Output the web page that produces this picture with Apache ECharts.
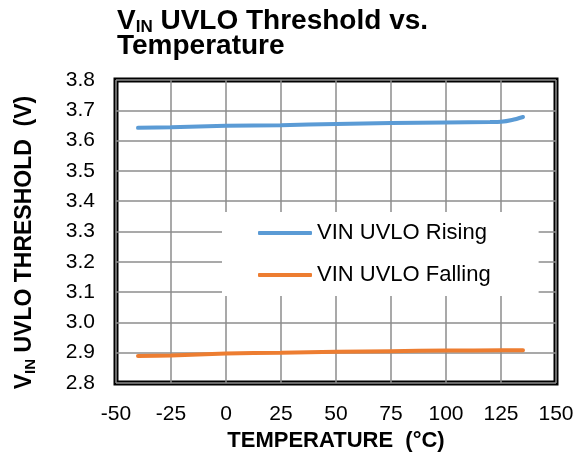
<!DOCTYPE html>
<html>
<head>
<meta charset="utf-8">
<script src="https://cdn.jsdelivr.net/npm/echarts@6/dist/echarts.min.js"></script>
<style>
  html, body { margin: 0; padding: 0; background: #fff; }
  #chart { width: 579px; height: 459px; }
</style>
</head>
<body>
<div id="chart"></div>
<script>
// Temperature sweep (°C) and measured UVLO thresholds (V)
const risingTemps   = [-40, -25, 0, 25, 50, 75, 100, 120, 125, 130, 135];
const risingValues  = [3.642, 3.644, 3.649, 3.651, 3.655, 3.658, 3.660, 3.661, 3.662, 3.668, 3.678];
const fallingTemps  = [-40, -25, 0, 25, 50, 75, 100, 125, 135];
const fallingValues = [2.889, 2.891, 2.897, 2.900, 2.903, 2.905, 2.907, 2.908, 2.908];

const seriesNames = ['VIN UVLO Rising', 'VIN UVLO Falling'];
const seriesColors = ['#5b9bd5', '#ed7d31'];

const xTicks = { min: -50, max: 150, step: 25 };
const yTicks = { min: 2.8, max: 3.8, step: 0.1 };

const pairs = (xs, ys) => xs.map((x, i) => [x, ys[i]]);

const FONT = 'Arial, "Liberation Sans", sans-serif';
const chart = echarts.init(document.getElementById('chart'), null, { renderer: 'canvas' });

chart.setOption({
  animation: false,
  backgroundColor: '#fff',
  textStyle: { fontFamily: FONT, color: '#000' },
  title: {
    left: 112,
    top: 4,
    text: '{a|V}{s|IN}{a| UVLO Threshold vs.}\n{a|Temperature}',
    textStyle: {
      rich: {
        a: { fontFamily: FONT, fontSize: 28, fontWeight: 'bold', color: '#000', lineHeight: 25 },
        s: { fontFamily: FONT, fontSize: 17, fontWeight: 'bold', color: '#000', lineHeight: 8, verticalAlign: 'top', padding: [10, 0, 0, 0] }
      }
    }
  },
  grid: {
    left: 116, right: 23, top: 80, bottom: 76,
    show: true,
    borderColor: '#000',
    borderWidth: 5,
    backgroundColor: 'transparent'
  },
  legend: {
    left: 222,
    top: 212,
    orient: 'vertical',
    backgroundColor: '#fff',
    padding: [10, 48, 10, 36],
    itemGap: 20,
    itemWidth: 54,
    itemHeight: 4,
    icon: 'roundRect',
    selectedMode: false,
    textStyle: { fontFamily: FONT, fontSize: 22, color: '#000', lineHeight: 20 },
    data: seriesNames
  },
  xAxis: {
    type: 'value',
    min: xTicks.min, max: xTicks.max, interval: xTicks.step,
    name: 'TEMPERATURE  (°C)',
    nameLocation: 'middle',
    nameGap: 47,
    nameTextStyle: { fontFamily: FONT, fontSize: 22, fontWeight: 'bold', color: '#000' },
    axisLine: { show: false },
    axisTick: { show: false },
    axisLabel: { fontFamily: FONT, fontSize: 21, color: '#000', margin: 21 },
    splitLine: { show: true, lineStyle: { color: '#8c8c8c', width: 1.5 } }
  },
  yAxis: {
    type: 'value',
    min: yTicks.min, max: yTicks.max, interval: yTicks.step,
    name: '{a|V}{s|IN}{a| UVLO THRESHOLD  (V)}',
    nameLocation: 'middle',
    nameGap: 80,
    nameRotate: 90,
    nameTextStyle: {
      padding: [0, 22, 0, 0],
      rich: {
        a: { fontFamily: FONT, fontSize: 23, fontWeight: 'bold', color: '#000', lineHeight: 22 },
        s: { fontFamily: FONT, fontSize: 15, fontWeight: 'bold', color: '#000', lineHeight: 8, verticalAlign: 'top', padding: [9, 0, 0, 0] }
      }
    },
    axisLine: { show: false },
    axisTick: { show: false },
    axisLabel: {
      fontFamily: FONT, fontSize: 21, color: '#000', margin: 21,
      formatter: v => v.toFixed(1)
    },
    splitLine: { show: true, lineStyle: { color: '#8c8c8c', width: 1.5 } }
  },
  series: [
    {
      name: seriesNames[0],
      type: 'line',
      data: pairs(risingTemps, risingValues),
      smooth: 0.3,
      showSymbol: false,
      color: seriesColors[0],
      lineStyle: { width: 4, color: seriesColors[0], cap: 'round' },
      z: 3
    },
    {
      name: seriesNames[1],
      type: 'line',
      data: pairs(fallingTemps, fallingValues),
      smooth: 0.3,
      showSymbol: false,
      color: seriesColors[1],
      lineStyle: { width: 4, color: seriesColors[1], cap: 'round' },
      z: 3
    }
  ]
});
</script>
</body>
</html>
